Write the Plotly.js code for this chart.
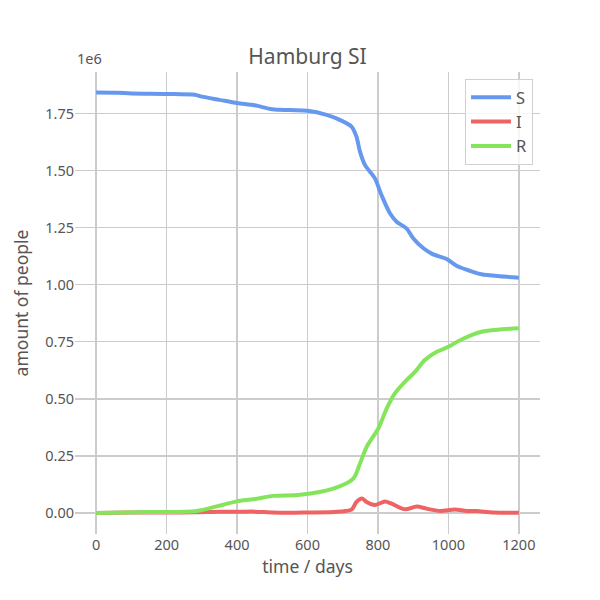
<!DOCTYPE html>
<html>
<head>
<meta charset="utf-8">
<script src="https://cdn.plot.ly/plotly-3.0.1.min.js"></script>
<style>html,body{margin:0;padding:0;background:#fff}#chart{width:600px;height:600px}</style>
</head>
<body>
<div id="chart"></div>
<script>
// values in units of 1e6 people
const sDays = [0, 60, 100, 200, 280, 300, 350, 400, 450, 500, 550, 600, 654, 692, 725, 739, 749, 763, 791, 810, 834, 853, 881, 900, 929, 957, 995, 1023, 1061, 1094, 1146, 1200];
const sVals = [1.842, 1.841, 1.838, 1.836, 1.832, 1.824, 1.810, 1.796, 1.786, 1.769, 1.765, 1.762, 1.744, 1.722, 1.693, 1.649, 1.583, 1.525, 1.467, 1.393, 1.313, 1.276, 1.247, 1.204, 1.160, 1.133, 1.113, 1.083, 1.061, 1.046, 1.037, 1.031];

const iDays = [0, 100, 200, 280, 350, 400, 450, 500, 550, 600, 673, 725, 739, 755, 768, 791, 820, 839, 877, 910, 938, 976, 1018, 1052, 1080, 1127, 1200];
const iVals = [0.000, 0.002, 0.002, 0.003, 0.006, 0.005, 0.006, 0.002, 0.001, 0.002, 0.004, 0.015, 0.048, 0.063, 0.048, 0.035, 0.050, 0.041, 0.016, 0.029, 0.019, 0.009, 0.015, 0.009, 0.009, 0.002, 0.001];

const rDays = [0, 153, 286, 342, 399, 446, 503, 579, 673, 730, 749, 768, 801, 825, 848, 881, 905, 933, 967, 1000, 1033, 1094, 1146, 1200];
const rVals = [0.000, 0.004, 0.009, 0.029, 0.051, 0.060, 0.075, 0.080, 0.107, 0.151, 0.217, 0.290, 0.370, 0.458, 0.524, 0.582, 0.618, 0.670, 0.706, 0.728, 0.757, 0.794, 0.804, 0.809];

const seriesNames = ['S', 'I', 'R'];
const yTicks = [0, 0.25, 0.5, 0.75, 1.0, 1.25, 1.5, 1.75];
const xTicks = [0, 200, 400, 600, 800, 1000, 1200];

const colors = ['#6699EE', '#EE6464', '#84E55C'];
const font = '"Noto Sans", "Open Sans", sans-serif';
const txt = '#555555';

function tr(x, y, i) {
  return {x: x, y: y, name: seriesNames[i], type: 'scatter', mode: 'lines',
    line: {color: colors[i], width: 4, shape: 'spline', smoothing: 0.8}};
}

const data = [tr(sDays, sVals, 0), tr(iDays, iVals, 1), tr(rDays, rVals, 2)];

const layout = {
  width: 600, height: 600,
  margin: {l: 75, r: 60, t: 72, b: 66},
  paper_bgcolor: '#fff', plot_bgcolor: '#fff',
  font: {family: font, color: txt, size: 14},
  title: {text: 'Hamburg SI', x: 0.5125, xanchor: 'center', y: 0.905, yanchor: 'middle', font: {size: 21, color: txt, family: font}},
  xaxis: {
    range: [-60, 1260], tickvals: xTicks, ticktext: xTicks.map(String),
    showgrid: true, gridcolor: '#cccccc', gridwidth: 1.3, zeroline: false, showline: false,
    ticks: '', tickfont: {size: 14.5, color: txt},
    title: {text: 'time / days', font: {size: 17.5, color: txt}, standoff: 8}
  },
  yaxis: {
    range: [-0.092, 1.932], tickvals: yTicks, ticktext: yTicks.map(v => v.toFixed(2)),
    showgrid: true, gridcolor: '#cccccc', gridwidth: 1.3, zeroline: false, showline: false,
    ticks: '', tickfont: {size: 14.5, color: txt},
    title: {text: 'amount of people', font: {size: 17.5, color: txt}, standoff: 12}
  },
  legend: {
    x: 0.985, y: 0.985, xanchor: 'right', yanchor: 'top',
    bgcolor: 'rgba(255,255,255,0.8)', bordercolor: '#d0d0d0', borderwidth: 1,
    font: {size: 16.5, color: txt}, itemwidth: 40, tracegroupgap: 0
  },
  annotations: [{
    text: '1e6', xref: 'paper', yref: 'paper', x: 0, y: 1.005, xanchor: 'left', yanchor: 'bottom',
    showarrow: false, font: {size: 14.5, color: txt}
  }],
  showlegend: true
};

Plotly.newPlot('chart', data, layout, {staticPlot: true});
</script>
</body>
</html>
